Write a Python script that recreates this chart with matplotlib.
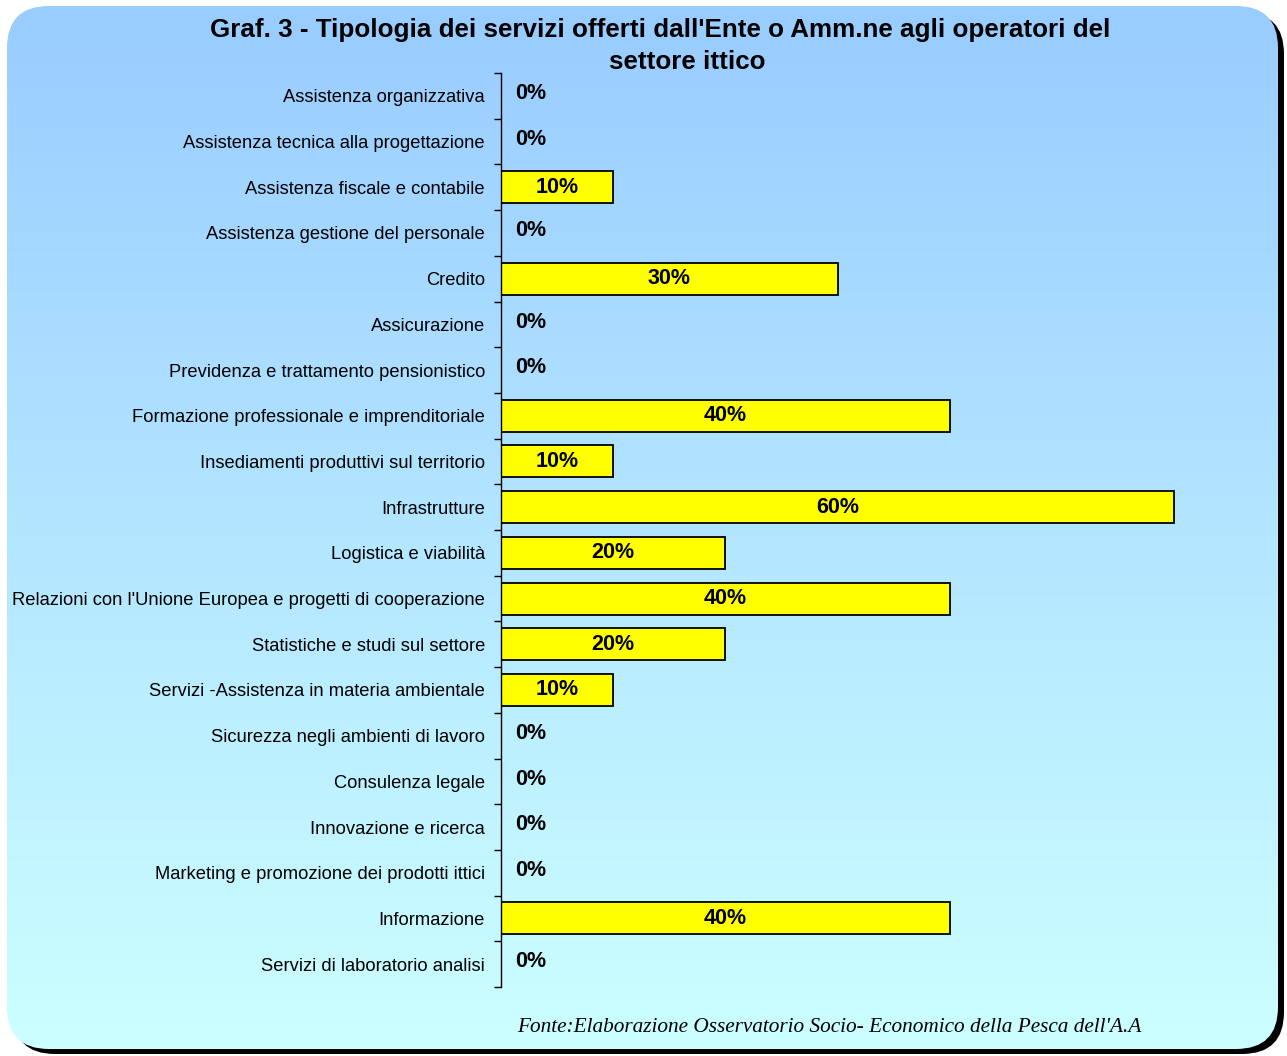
import numpy as np
import matplotlib
matplotlib.use('Agg')
from matplotlib import pyplot as plt
from matplotlib.patches import FancyBboxPatch
from matplotlib.colors import LinearSegmentedColormap

plt.rcParams['font.family'] = ['Liberation Sans', 'DejaVu Sans']

#---- data

categories = ['Assistenza organizzativa',
              'Assistenza tecnica alla progettazione',
              'Assistenza fiscale e contabile',
              'Assistenza gestione del personale',
              'Credito',
              'Assicurazione',
              'Previdenza e trattamento pensionistico',
              'Formazione professionale e imprenditoriale',
              'Insediamenti produttivi sul territorio',
              'Infrastrutture',
              'Logistica e viabilità',
              "Relazioni con l'Unione Europea e progetti di cooperazione",
              'Statistiche e studi sul settore',
              'Servizi -Assistenza in materia ambientale',
              'Sicurezza negli ambienti di lavoro',
              'Consulenza legale',
              'Innovazione e ricerca',
              'Marketing e promozione dei prodotti ittici',
              'Informazione',
              'Servizi di laboratorio analisi']
values = [0, 0, 10, 0, 30, 0, 0, 40, 10, 60, 20, 40, 20, 10, 0, 0, 0, 0, 40, 0]

title_1 = "Graf. 3 - Tipologia dei servizi offerti dall'Ente o Amm.ne agli operatori del"
title_2 = "settore ittico"
source = "Fonte:Elaborazione Osservatorio Socio- Economico della Pesca dell'A.A"

#---- figure and rounded gradient panel

W, H = 1287, 1056
fig = plt.figure(figsize=(W / 100, H / 100), dpi=100)

bg = fig.add_axes([0, 0, 1, 1])
bg.set_xlim(0, W)
bg.set_ylim(H, 0)
bg.axis('off')

box = 'round,pad=0,rounding_size=42'
shadow = FancyBboxPatch((13, 12), 1271, 1042, boxstyle=box, fc='black', ec='none',
                        zorder=1)
bg.add_patch(shadow)
panel = FancyBboxPatch((7, 6), 1271, 1043, boxstyle=box, fc='none', ec='none',
                       zorder=2)
bg.add_patch(panel)

cmap = LinearSegmentedColormap.from_list('panel', ['#99ccff', '#ccffff'])
grad = np.linspace(0, 1, 256).reshape(-1, 1)
im = bg.imshow(grad, extent=(7, 1278, 1049, 6), cmap=cmap, aspect='auto',
               interpolation='bilinear', zorder=3)
im.set_clip_path(panel)

#---- bar chart

x0, x60, xr = 501, 1174, 1235
ytop, ybot = 73, 987
ax = fig.add_axes([x0 / W, 1 - ybot / H, (xr - x0) / W, (ybot - ytop) / H])
ax.patch.set_visible(False)

y = np.arange(len(categories))
ax.barh(y, values, height=0.7, color='#ffff00', edgecolor='black', linewidth=1.3)

ax.set_xlim(0, 60 * (xr - x0) / (x60 - x0))
ax.set_ylim(len(categories) - 0.5, -0.5)

for side in ['top', 'right', 'bottom']:
    ax.spines[side].set_visible(False)
ax.spines['left'].set_linewidth(1.0)

ax.set_xticks([])
ax.set_yticks(y)
ax.set_yticklabels(categories)
ax.tick_params(axis='y', which='major', length=0, pad=11.5, labelsize=13.2)
ax.set_yticks(np.arange(-0.5, len(categories), 1), minor=True)
ax.tick_params(axis='y', which='minor', length=5, direction='out', width=1.0)

for yi, v in zip(y, values):
    if v > 0:
        ax.text(v / 2, yi, '%d%%' % v, ha='center', va='center',
                fontsize=15.5, fontweight='bold')
    else:
        ax.text(1.3, yi - 0.05, '%d%%' % v, ha='left', va='center',
                fontsize=15.5, fontweight='bold')

#---- titles and source

fig.text(660 / W, 1 - 30 / H, title_1, ha='center', va='center',
         fontsize=18.7, fontweight='bold')
fig.text(687 / W, 1 - 62 / H, title_2, ha='center', va='center',
         fontsize=18.7, fontweight='bold')
fig.text(517 / W, 1 - 1027 / H, source, ha='left', va='center',
         fontsize=15.3, style='italic', family=['Liberation Serif', 'DejaVu Serif'])

fig.savefig('out.png', dpi=100)
